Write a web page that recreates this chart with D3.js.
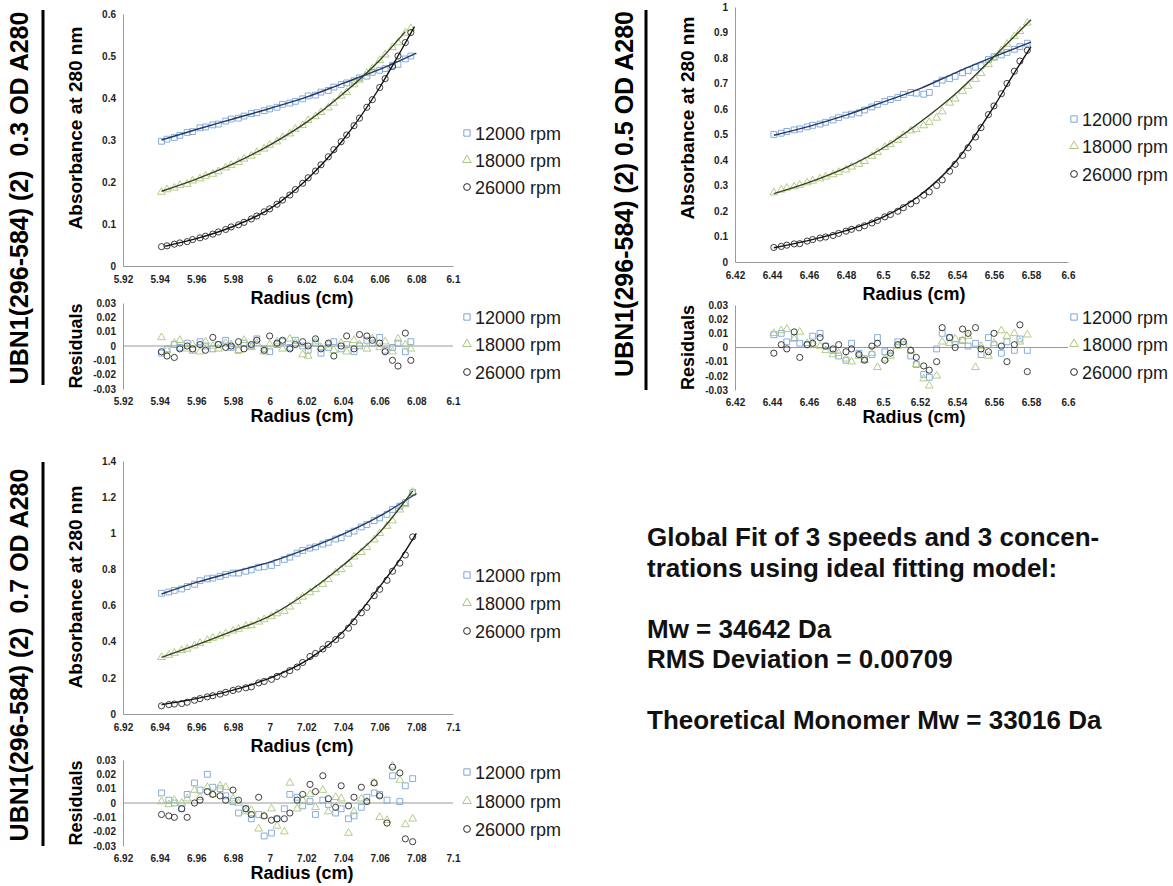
<!DOCTYPE html>
<html>
<head>
<meta charset="utf-8">
<script src="https://cdn.jsdelivr.net/npm/d3@7"></script>
<style>
  body { margin: 0; background: #fff; }
  svg text { font-family: "Liberation Sans", Arial, sans-serif; }
</style>
</head>
<body>
<svg id="chart" width="1173" height="886"></svg>
<script>
// ---- data ----
const speeds = ["12000 rpm", "18000 rpm", "26000 rpm"];
const resTicks = [0.03, 0.02, 0.01, 0, -0.01, -0.02, -0.03];

// 0.3 OD
const titleA = "UBN1(296-584) (2)  0.3 OD A280";
const xTicksA = [5.92, 5.94, 5.96, 5.98, 6, 6.02, 6.04, 6.06, 6.08, 6.1];
const yTicksA = [0, 0.1, 0.2, 0.3, 0.4, 0.5, 0.6];
const radiusA = [5.941, 5.944, 5.948, 5.951, 5.955, 5.958, 5.962, 5.965, 5.969, 5.972,
  5.976, 5.979, 5.983, 5.986, 5.990, 5.993, 5.997, 6.000, 6.004, 6.007,
  6.011, 6.014, 6.018, 6.021, 6.025, 6.028, 6.032, 6.035, 6.039, 6.042,
  6.046, 6.049, 6.053, 6.056, 6.060, 6.063, 6.067, 6.070, 6.074, 6.077];
const absA12 = [.297, .302, .306, .311, .318, .320, .329, .331, .336, .338,
  .345, .350, .352, .357, .363, .365, .370, .374, .378, .385,
  .388, .392, .398, .405, .407, .414, .418, .426, .432, .436,
  .441, .448, .452, .461, .466, .470, .478, .480, .493, .500];
const absA18 = [.176, .182, .186, .192, .195, .203, .208, .214, .219, .225,
  .234, .240, .247, .255, .262, .271, .279, .288, .296, .306,
  .315, .326, .335, .347, .356, .366, .377, .388, .405, .414,
  .432, .443, .459, .470, .490, .503, .521, .532, .555, .566];
const absA26 = [.046, .048, .052, .055, .058, .063, .067, .071, .076, .081,
  .087, .093, .098, .104, .112, .119, .129, .136, .147, .157,
  .169, .182, .197, .210, .226, .241, .260, .277, .296, .312,
  .334, .352, .378, .396, .425, .446, .475, .500, .532, .556];
const fitA12 = [[5.941, .300], [5.96, .325], [5.98, .350], [6.00, .375], [6.02, .402], [6.04, .435], [6.06, .468], [6.08, .507]];
const fitA18 = [[5.941, .178], [5.96, .207], [5.98, .243], [6.00, .288], [6.02, .342], [6.04, .410], [6.06, .490], [6.074, .558]];
const fitA26 = [[5.943, .047], [5.96, .065], [5.98, .094], [6.00, .136], [6.02, .205], [6.04, .300], [6.06, .425], [6.07, .500], [6.079, .570]];
const resA12 = [-.005, -.002, .001, -.001, .002, -.003, .003, 0, -.002, .001,
  .004, -.001, -.003, .002, 0, .005, -.002, -.004, .001, .003,
  -.001, .004, 0, -.003, .002, -.005, -.001, .003, -.002, .001,
  -.004, 0, .004, .002, .006, -.003, -.001, .002, -.004, .003];
const resA18 = [.006, -.003, .002, .004, -.002, .001, -.004, .003, 0, -.002,
  .002, .001, -.003, .004, -.001, .002, -.004, .001, .003, -.002,
  .005, .002, -.006, -.007, .003, -.001, .001, -.003, .002, -.004,
  .004, .001, -.002, .005, -.001, .003, -.004, .005, .001, -.002];
const resA26 = [-.004, -.007, -.008, -.002, 0, -.002, .001, -.003, .006, .001,
  -.001, 0, .003, -.002, .001, .004, -.003, .007, .002, .004,
  -.002, .001, .003, 0, .005, -.002, .002, -.007, 0, .007,
  -.002, .008, .007, .004, .002, -.004, -.010, -.014, .009, -.010];

// 0.5 OD
const titleB = "UBN1(296-584) (2) 0.5 OD A280";
const xTicksB = [6.42, 6.44, 6.46, 6.48, 6.5, 6.52, 6.54, 6.56, 6.58, 6.6];
const yTicksB = [0, 0.1, 0.2, 0.3, 0.4, 0.5, 0.6, 0.7, 0.8, 0.9, 1];
const radiusB = [6.441, 6.445, 6.448, 6.452, 6.455, 6.459, 6.462, 6.466, 6.469, 6.473,
  6.476, 6.480, 6.483, 6.487, 6.490, 6.494, 6.497, 6.501, 6.504, 6.508,
  6.511, 6.515, 6.518, 6.522, 6.525, 6.529, 6.532, 6.536, 6.539, 6.543,
  6.546, 6.550, 6.553, 6.557, 6.560, 6.564, 6.567, 6.571, 6.574, 6.578];
const absB12 = [.500, .505, .512, .518, .522, .530, .536, .541, .548, .557,
  .566, .576, .580, .585, .596, .608, .618, .630, .637, .645,
  .657, .665, .662, .658, .665, .700, .713, .719, .728, .742,
  .751, .764, .770, .794, .805, .812, .822, .834, .845, .858];
const absB18 = [.272, .283, .290, .296, .302, .311, .318, .327, .334, .343,
  .352, .362, .373, .384, .395, .415, .430, .450, .461, .478,
  .497, .515, .520, .535, .548, .565, .590, .624, .640, .670,
  .690, .717, .740, .775, .800, .830, .855, .885, .905, .938];
const absB26 = [.057, .061, .066, .071, .072, .082, .088, .094, .098, .104,
  .112, .121, .128, .134, .142, .153, .163, .177, .186, .199,
  .213, .228, .240, .262, .275, .300, .322, .356, .383, .418,
  .448, .490, .527, .578, .612, .660, .700, .748, .788, .830];
const fitB12 = [[6.441, .497], [6.46, .532], [6.48, .576], [6.50, .627], [6.52, .680], [6.54, .745], [6.56, .805], [6.58, .862]];
const fitB18 = [[6.441, .268], [6.46, .312], [6.48, .370], [6.50, .447], [6.52, .548], [6.54, .665], [6.56, .805], [6.58, .950]];
const fitB26 = [[6.441, .056], [6.46, .085], [6.48, .123], [6.50, .176], [6.52, .262], [6.54, .400], [6.56, .610], [6.57, .730], [6.58, .845]];
const resB12 = [.009, .010, .004, .007, .003, .002, .008, .010, .001, -.002,
  -.006, -.009, .003, -.004, -.008, -.005, .007, -.003, -.002, .004,
  .002, -.006, -.012, -.019, -.021, -.001, .010, .007, .002, .005,
  .001, .003, -.005, .007, .002, -.004, .004, -.002, .006, -.002];
const resB18 = [.010, .012, .013, .006, .011, .003, .002, .001, -.002, -.005,
  -.004, -.008, -.010, -.006, -.009, -.004, -.014, -.008, -.006, .001,
  .004, -.002, -.012, -.022, -.027, -.020, .004, .003, .006, .005,
  .008, -.014, .001, -.006, .003, .012, .008, .010, .004, .009];
const resB26 = [-.004, .002, -.001, .011, -.007, .002, .003, .007, .001, -.001,
  .002, -.003, -.001, -.005, -.009, .001, .003, -.009, -.004, .002,
  .004, -.002, -.007, -.013, -.016, -.010, .014, .007, 0, .013,
  .010, .014, -.001, -.003, .010, .001, -.010, .002, .016, -.017];

// 0.7 OD
const titleC = "UBN1(296-584) (2)  0.7 OD A280";
const xTicksC = [6.92, 6.94, 6.96, 6.98, 7, 7.02, 7.04, 7.06, 7.08, 7.1];
const yTicksC = [0, 0.2, 0.4, 0.6, 0.8, 1, 1.2, 1.4];
const radiusC = [6.941, 6.945, 6.948, 6.952, 6.955, 6.959, 6.962, 6.966, 6.969, 6.973,
  6.976, 6.980, 6.983, 6.987, 6.990, 6.994, 6.997, 7.001, 7.004, 7.008,
  7.011, 7.015, 7.018, 7.022, 7.025, 7.029, 7.032, 7.036, 7.039, 7.043,
  7.046, 7.050, 7.053, 7.057, 7.060, 7.064, 7.067, 7.071, 7.074, 7.078];
const absC12 = [.668, .675, .684, .692, .705, .718, .738, .748, .752, .762,
  .772, .780, .780, .790, .798, .812, .815, .822, .838, .855,
  .868, .890, .905, .918, .925, .940, .950, .968, .975, 1.000,
  1.012, 1.035, 1.048, 1.070, 1.085, 1.105, 1.132, 1.150, 1.170, 1.225];
const absC18 = [.314, .326, .337, .352, .360, .378, .392, .408, .420, .432,
  .445, .460, .470, .487, .490, .510, .523, .540, .556, .568,
  .593, .625, .648, .672, .690, .718, .745, .782, .800, .830,
  .870, .895, .922, .965, 1.000, 1.040, 1.070, 1.130, 1.160, 1.228];
const absC26 = [.045, .052, .055, .058, .065, .076, .085, .095, .101, .110,
  .120, .130, .138, .145, .150, .172, .180, .192, .208, .220,
  .240, .260, .285, .318, .335, .360, .385, .412, .435, .475,
  .510, .560, .590, .655, .690, .740, .790, .835, .880, .980];
const fitC12 = [[6.941, .664], [6.96, .728], [6.98, .785], [7.00, .840], [7.02, .912], [7.04, .995], [7.06, 1.095], [7.08, 1.220]];
const fitC18 = [[6.941, .313], [6.96, .382], [6.98, .460], [7.00, .542], [7.02, .668], [7.04, .823], [7.06, 1.005], [7.078, 1.235]];
const fitC26 = [[6.941, .052], [6.96, .085], [6.98, .132], [7.00, .198], [7.02, .295], [7.04, .455], [7.06, .705], [7.07, .840], [7.08, 1.000]];
const resC12 = [.007, .002, 0, -.004, .006, .014, .009, .020, .011, .010,
  .005, .001, -.007, -.004, -.011, -.008, -.023, -.021, -.011, -.004,
  .006, .004, -.002, .001, -.008, .002, -.001, -.007, -.004, -.011,
  -.009, -.003, .004, .007, .006, .002, .019, .001, .012, .017];
const resC18 = [.001, -.001, .002, 0, .003, .009, .004, .011, .006, .012,
  .011, .003, 0, -.006, -.005, -.018, -.009, -.004, -.016, -.020,
  .014, -.004, .002, .006, -.003, .009, -.006, .004, .003, -.021,
  -.006, .003, .001, .014, -.010, -.012, .026, .016, -.015, -.011];
const resC26 = [-.008, -.009, -.010, -.004, -.010, 0, .002, .008, .006, .005,
  .002, .009, .002, -.004, -.008, .004, -.009, -.012, -.011, -.011,
  -.007, .002, .006, .013, .008, .019, .003, -.003, .012, -.002,
  .004, .011, .001, .014, .005, -.014, .025, .021, -.025, -.027];

const noteLines = [
  "Global Fit of 3 speeds and 3 concen-",
  "trations using ideal fitting model:",
  "",
  "Mw = 34642 Da",
  "RMS Deviation = 0.00709",
  "",
  "Theoretical Monomer Mw = 33016 Da"
];

// ---- styling ----
const markerStroke = ["#7ba4d6", "#adc67e", "#2a2a2a"];
const fitStroke = ["#1f3a66", "#34431c", "#111111"];
const symbols = [d3.symbolSquare, d3.symbolTriangle, d3.symbolCircle];
const symbolSize = [34, 26, 30];
const axisGray = "#9a9a9a";

const panels = [
  { title: titleA, radius: radiusA, abs: [absA12, absA18, absA26], res: [resA12, resA18, resA26],
    fits: [fitA12, fitA18, fitA26], xTicks: xTicksA, yTicks: yTicksA,
    left: 123, right: 453, mainTop: 14, mainBottom: 266, resTop: 303, resBottom: 389,
    titleX: 28, titleY: 198, barX: 43, barTop: 10, barBottom: 385,
    absTitleY: 128, legendX: 467, legMain: [134, 161, 188], legRes: [318, 345, 373] },
  { title: titleB, radius: radiusB, abs: [absB12, absB18, absB26], res: [resB12, resB18, resB26],
    fits: [fitB12, fitB18, fitB26], xTicks: xTicksB, yTicks: yTicksB,
    left: 735, right: 1068, mainTop: 7, mainBottom: 262, resTop: 305, resBottom: 390,
    titleX: 633, titleY: 194, barX: 646, barTop: 10, barBottom: 390,
    absTitleY: 118, legendX: 1074, legMain: [120, 147, 175], legRes: [318, 345, 373] },
  { title: titleC, radius: radiusC, abs: [absC12, absC18, absC26], res: [resC12, resC18, resC26],
    fits: [fitC12, fitC18, fitC26], xTicks: xTicksC, yTicks: yTicksC,
    left: 123, right: 453, mainTop: 461, mainBottom: 714, resTop: 760, resBottom: 846,
    titleX: 28, titleY: 655, barX: 43, barTop: 462, barBottom: 846,
    absTitleY: 587, legendX: 467, legMain: [576, 604, 632], legRes: [773, 802, 830] }
];

const svg = d3.select("#chart");

function styleAxis(g, showDomain) {
  g.select(".domain").attr("stroke", axisGray).attr("stroke-width", 1).style("display", showDomain ? null : "none");
  g.selectAll(".tick text")
    .attr("fill", "#1e1e1e")
    .attr("font-size", 10)
    .attr("font-weight", "bold");
}

function drawLegend(g, x, rows) {
  rows.forEach((ry, i) => {
    g.append("path")
      .attr("d", d3.symbol(symbols[i], symbolSize[i] + 6)())
      .attr("transform", `translate(${x},${ry - 1})`)
      .attr("fill", "none")
      .attr("stroke", markerStroke[i])
      .attr("stroke-width", 1);
    g.append("text")
      .attr("x", x + 8)
      .attr("y", ry)
      .attr("dy", "0.35em")
      .attr("font-size", 18)
      .attr("fill", "#1a1a1a")
      .text(speeds[i]);
  });
}

function drawPanel(p) {
  const g = svg.append("g");
  const x = d3.scaleLinear()
    .domain([p.xTicks[0], p.xTicks[p.xTicks.length - 1]])
    .range([p.left, p.right]);
  const y = d3.scaleLinear()
    .domain([0, p.yTicks[p.yTicks.length - 1]])
    .range([p.mainBottom, p.mainTop]);
  const yr = d3.scaleLinear()
    .domain([-0.03, 0.03])
    .range([p.resBottom, p.resTop]);

  // side title + bar
  g.append("text")
    .attr("transform", `translate(${p.titleX},${p.titleY}) rotate(-90)`)
    .attr("text-anchor", "middle")
    .attr("font-size", 25)
    .attr("font-weight", "bold")
    .style("white-space", "pre")
    .text(p.title);
  g.append("line")
    .attr("x1", p.barX).attr("x2", p.barX)
    .attr("y1", p.barTop).attr("y2", p.barBottom)
    .attr("stroke", "#000")
    .attr("stroke-width", 3);

  // ---- main plot ----
  g.append("g")
    .attr("transform", `translate(0,${y(0)})`)
    .call(d3.axisBottom(x).tickValues(p.xTicks).tickSize(0).tickPadding(10).tickFormat(d => String(d)))
    .call(a => styleAxis(a, true));
  g.append("g")
    .attr("transform", `translate(${p.left},0)`)
    .call(d3.axisLeft(y).tickValues(p.yTicks).tickSize(0).tickPadding(7).tickFormat(d => String(d)))
    .call(a => styleAxis(a, true));

  p.abs.forEach((vals, i) => {
    g.append("g").selectAll("path")
      .data(vals)
      .join("path")
      .attr("d", d3.symbol(symbols[i], symbolSize[i]))
      .attr("transform", (d, j) => `translate(${x(p.radius[j])},${y(d)})`)
      .attr("fill", "none")
      .attr("stroke", markerStroke[i])
      .attr("stroke-width", 0.9);
  });

  const fitLine = d3.line()
    .x(d => x(d[0]))
    .y(d => y(d[1]))
    .curve(d3.curveMonotoneX);
  p.fits.forEach((pts, i) => {
    g.append("path")
      .attr("d", fitLine(pts))
      .attr("fill", "none")
      .attr("stroke", fitStroke[i])
      .attr("stroke-width", 1.4);
  });

  g.append("text")
    .attr("transform", `translate(${p.left - 41},${p.absTitleY}) rotate(-90)`)
    .attr("text-anchor", "middle")
    .attr("font-size", 19)
    .attr("font-weight", "bold")
    .text("Absorbance at 280 nm");
  g.append("text")
    .attr("x", p.left + 179)
    .attr("y", p.mainBottom + 38)
    .attr("text-anchor", "middle")
    .attr("font-size", 18)
    .attr("font-weight", "bold")
    .text("Radius (cm)");
  drawLegend(g, p.legendX, p.legMain);

  // ---- residuals ----
  g.append("line")
    .attr("x1", p.left).attr("x2", p.right)
    .attr("y1", yr(0)).attr("y2", yr(0))
    .attr("stroke", axisGray)
    .attr("stroke-width", 1);
  g.append("g")
    .attr("transform", `translate(0,${p.resBottom})`)
    .call(d3.axisBottom(x).tickValues(p.xTicks).tickSize(0).tickPadding(9).tickFormat(d => String(d)))
    .call(a => styleAxis(a, false));
  g.append("g")
    .attr("transform", `translate(${p.left},0)`)
    .call(d3.axisLeft(yr).tickValues(resTicks).tickSize(0).tickPadding(7).tickFormat(d => String(d)))
    .call(a => styleAxis(a, true));

  p.res.forEach((vals, i) => {
    g.append("g").selectAll("path")
      .data(vals)
      .join("path")
      .attr("d", d3.symbol(symbols[i], symbolSize[i]))
      .attr("transform", (d, j) => `translate(${x(p.radius[j])},${yr(d)})`)
      .attr("fill", "none")
      .attr("stroke", markerStroke[i])
      .attr("stroke-width", 0.9);
  });

  g.append("text")
    .attr("transform", `translate(${p.left - 41},${(p.resTop + p.resBottom) / 2}) rotate(-90)`)
    .attr("text-anchor", "middle")
    .attr("font-size", 18)
    .attr("font-weight", "bold")
    .text("Residuals");
  g.append("text")
    .attr("x", p.left + 179)
    .attr("y", p.resBottom + 33)
    .attr("text-anchor", "middle")
    .attr("font-size", 18)
    .attr("font-weight", "bold")
    .text("Radius (cm)");
  drawLegend(g, p.legendX, p.legRes);
}

panels.forEach(drawPanel);

// fit summary
svg.append("g").selectAll("text")
  .data(noteLines)
  .join("text")
  .attr("x", 647)
  .attr("y", (d, i) => 546 + i * 30.5)
  .attr("font-size", 26)
  .attr("font-weight", "bold")
  .attr("fill", "#111")
  .text(d => d);
</script>
</body>
</html>
